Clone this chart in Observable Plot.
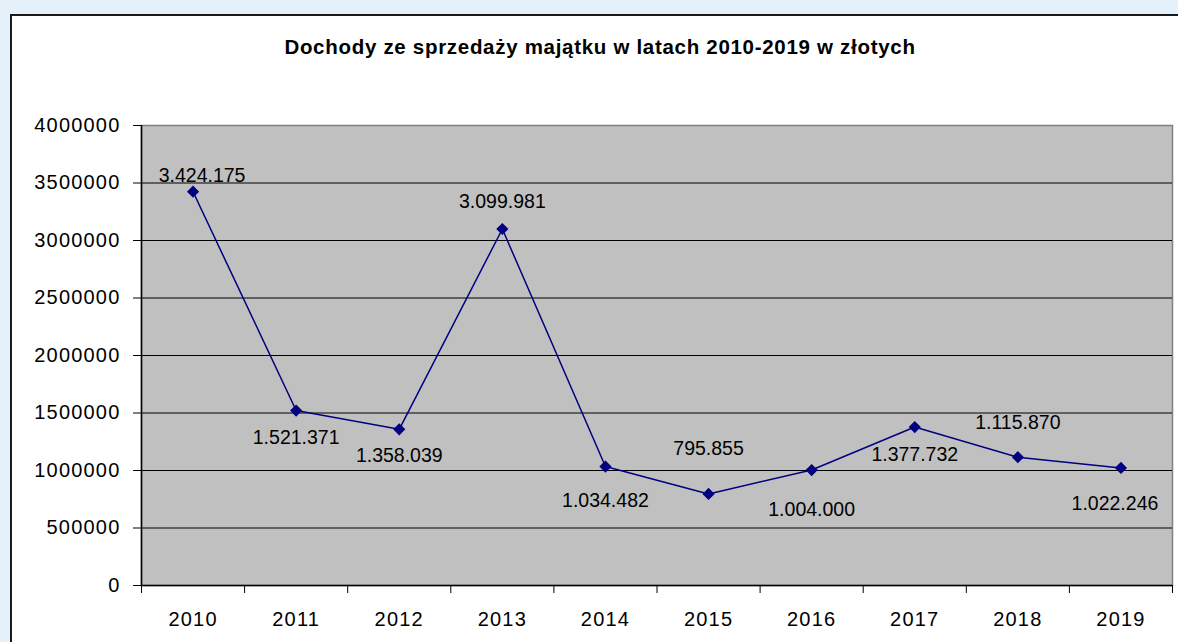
<!DOCTYPE html>
<html>
<head>
<meta charset="utf-8">
<script src="https://cdn.jsdelivr.net/npm/d3@7"></script>
<script src="https://cdn.jsdelivr.net/npm/@observablehq/plot@0.6"></script>
<style>
  html, body { margin: 0; padding: 0; }
  body { width: 1178px; height: 642px; overflow: hidden; background: #e5f1fa; position: relative; font-family: "Liberation Sans", Arial, sans-serif; }
  #panel { position: absolute; left: 10px; top: 14px; width: 1200px; height: 700px; background: #ffffff; border: 2px solid #1a1a1a; box-sizing: border-box; }
  #title { position: absolute; left: 0; top: 36px; width: 1200px; text-align: center; font-weight: bold; font-size: 20.5px; letter-spacing: 0.7px; line-height: 22px; color: #000; }
  #chart { position: absolute; left: 0; top: 0; }
  #chart svg g[aria-label="y-axis tick label"] text,
  #chart svg g[aria-label="x-axis tick label"] text { letter-spacing: 1.2px; }
  #chart svg g[aria-label="text"] text { letter-spacing: 0; }
</style>
</head>
<body>
<div id="panel"></div>
<div id="title">Dochody ze sprzedaży majątku w latach 2010-2019 w złotych</div>
<div id="chart"></div>
<script>
const years = [2010, 2011, 2012, 2013, 2014, 2015, 2016, 2017, 2018, 2019];
const values = [3424175, 1521371, 1358039, 3099981, 1034482, 795855, 1004000, 1377732, 1115870, 1022246];
const labels = ["3.424.175", "1.521.371", "1.358.039", "3.099.981", "1.034.482", "795.855", "1.004.000", "1.377.732", "1.115.870", "1.022.246"];
const yTicks = [0, 500000, 1000000, 1500000, 2000000, 2500000, 3000000, 3500000, 4000000];

// label placement (layout, not data)
const labelDy = [-16, 27, 26, -27, 34, -45, 40, 28, -34, 36];
const labelDx = [9, 0, 0, 0, 0, 0, 0, 0, 0, -6];

const data = years.map((y, i) => ({year: y, value: values[i], label: labels[i], i}));
const boundaries = years.map(y => y - 0.5).concat([years[years.length - 1] + 0.5]);

const textMarks = data.map(d => Plot.text([d], {
  x: "year", y: "value", text: "label",
  dy: labelDy[d.i], dx: labelDx[d.i],
  fontSize: 19.5, fill: "#000", textAnchor: "middle"
}));

const chart = Plot.plot({
  width: 1178,
  height: 642,
  marginLeft: 141,
  marginRight: 6,
  marginTop: 125,
  marginBottom: 57,
  style: { fontFamily: "Liberation Sans, Arial, sans-serif", fontSize: "20px", background: "transparent", color: "#000", overflow: "visible" },
  x: { domain: [2009.5, 2019.5] },
  y: { domain: [0, 4000000] },
  marks: [
    Plot.frame({ fill: "#c0c0c0", stroke: "#808080", strokeWidth: 1.5 }),
    Plot.ruleY(yTicks.filter(d => d > 0 && d < 4000000), { stroke: "#000", strokeWidth: 1.2 }),
    Plot.ruleX([2009.5], { stroke: "#000", strokeWidth: 1.5 }),
    Plot.ruleY([0], { stroke: "#000", strokeWidth: 1.5 }),
    Plot.axisY({ ticks: yTicks, tickSize: 8, tickPadding: 13, tickFormat: d => String(d), fontSize: 20, label: null }),
    Plot.axisX({ ticks: years, tickSize: 0, tickPadding: 26, tickFormat: d => String(d), fontSize: 20, label: null }),
    Plot.axisX({ ticks: boundaries, tickSize: 8, tickFormat: () => "", label: null }),
    Plot.line(data, { x: "year", y: "value", stroke: "#000080", strokeWidth: 1.5 }),
    Plot.dot(data, { x: "year", y: "value", symbol: "diamond2", fill: "#000080", stroke: "none", r: 5.5 }),
    ...textMarks
  ]
});
document.getElementById("chart").appendChild(chart);
</script>
</body>
</html>
